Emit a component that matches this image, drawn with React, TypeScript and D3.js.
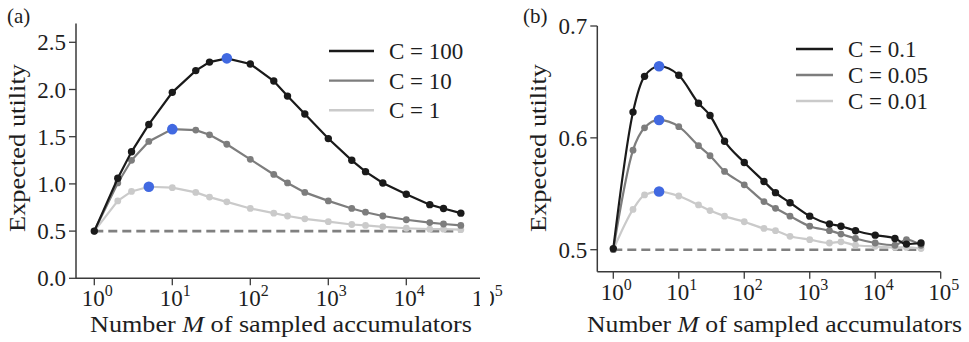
import React from 'react';
import * as d3 from 'd3';

// sampled accumulator counts (shared by both panels)
const M = [1, 2, 3, 5, 10, 20, 30, 50, 100, 200, 300, 500, 1000, 2000, 3000, 5000, 10000, 20000, 30000, 50000];

// panel (a)
const leftLabels = ['C = 100', 'C = 10', 'C = 1'];
const leftC100 = [0.5, 1.06, 1.34, 1.63, 1.97, 2.2, 2.29, 2.33, 2.27, 2.09, 1.93, 1.74, 1.48, 1.25, 1.13, 1.01, 0.89, 0.78, 0.74, 0.69];
const leftC10 = [0.5, 1.01, 1.25, 1.45, 1.58, 1.57, 1.52, 1.42, 1.26, 1.1, 1.01, 0.91, 0.82, 0.74, 0.7, 0.66, 0.62, 0.59, 0.575, 0.56];
const leftC1 = [0.5, 0.82, 0.92, 0.97, 0.96, 0.91, 0.86, 0.81, 0.74, 0.69, 0.66, 0.63, 0.6, 0.57, 0.56, 0.545, 0.53, 0.52, 0.52, 0.515];
const leftBest = [7, 4, 3];
const leftYTicks = [0, 0.5, 1, 1.5, 2, 2.5];

// panel (b)
const rightLabels = ['C = 0.1', 'C = 0.05', 'C = 0.01'];
const rightC01 = [0.501, 0.623, 0.655, 0.664, 0.656, 0.631, 0.62, 0.597, 0.578, 0.561, 0.551, 0.542, 0.53, 0.523, 0.521, 0.517, 0.513, 0.51, 0.505, 0.506];
const rightC005 = [0.5, 0.589, 0.609, 0.616, 0.61, 0.593, 0.584, 0.57, 0.558, 0.543, 0.537, 0.53, 0.521, 0.517, 0.514, 0.51, 0.506, 0.504, 0.509, 0.504];
const rightC001 = [0.5, 0.536, 0.549, 0.552, 0.548, 0.54, 0.535, 0.53, 0.525, 0.519, 0.517, 0.512, 0.509, 0.506, 0.507, 0.504, 0.503, 0.502, 0.502, 0.501];
const rightBest = [3, 3, 3];
const rightYTicks = [0.5, 0.6, 0.7];

const xTickExps = [0, 1, 2, 3, 4, 5];

const FONT = '"Liberation Serif", "Times New Roman", serif';
const COLORS = ['#1a1a1a', '#7d7d7d', '#cacaca'];
const BLUE = '#4169e1';
const AXIS = '#3a3a3a';

type PanelProps = {
  letter: string;
  letterX: number;
  series: number[][];
  best: number[];
  labels: string[];
  x: d3.ScaleLogarithmic<number, number>;
  y: d3.ScaleLinear<number, number>;
  yTicks: number[];
  yFmt: (v: number) => string;
  xSpine: [number, number];
  axisY: number;
  yTop: number;
  legendX: number;
  legendY: number;
  legendGap: number;
  lineLen: number;
  curve: d3.CurveFactory;
  ylabX: number;
  xlabX: number;
  xlabW: number;
};

const Panel = (p: PanelProps) => {
  const line = d3.line<number>()
    .x((_, i) => p.x(M[i]))
    .y(d => p.y(d))
    .curve(p.curve);
  const spineX = p.xSpine[0];
  const order = [2, 1, 0];
  return (
    <g fontFamily={FONT} fill="#1e1e1e">
      <text x={p.letterX} y={23} fontSize={21}>{p.letter}</text>

      {/* spines */}
      <line x1={spineX} x2={spineX} y1={p.axisY} y2={p.yTop} stroke={AXIS} strokeWidth={1.5} />
      <line x1={p.xSpine[0]} x2={p.xSpine[1]} y1={p.axisY} y2={p.axisY} stroke={AXIS} strokeWidth={1.5} />

      {p.yTicks.map(t => (
        <g key={t}>
          <line x1={spineX - 7} x2={spineX} y1={p.y(t)} y2={p.y(t)} stroke={AXIS} strokeWidth={1.3} />
          <text x={spineX - 10} y={p.y(t)} dy="0.35em" textAnchor="end" fontSize={23}>{p.yFmt(t)}</text>
        </g>
      ))}
      {xTickExps.map(k => (
        <g key={k}>
          <line x1={p.x(10 ** k)} x2={p.x(10 ** k)} y1={p.axisY} y2={p.axisY + 7} stroke={AXIS} strokeWidth={1.3} />
          <text x={p.x(10 ** k) + 3} y={p.axisY + 28} textAnchor="middle" fontSize={23}>
            10<tspan dy={-10} fontSize={16}>{k}</tspan>
          </text>
        </g>
      ))}

      <text x={p.xlabX} y={332} fontSize={23} textLength={p.xlabW} lengthAdjust="spacingAndGlyphs">
        Number <tspan fontStyle="italic">M</tspan> of sampled accumulators
      </text>
      <text transform={`translate(${p.ylabX},148) rotate(-90)`} textAnchor="middle" fontSize={23}
        textLength={168} lengthAdjust="spacingAndGlyphs">Expected utility</text>

      {/* chance level */}
      <line x1={p.x(M[0])} x2={p.x(M[M.length - 1])} y1={p.y(0.5)} y2={p.y(0.5)}
        stroke="#808080" strokeWidth={2.6} strokeDasharray="9,5" />

      {order.map(s => (
        <g key={s}>
          <path d={line(p.series[s]) || ''} fill="none" stroke={COLORS[s]} strokeWidth={2.2} />
          {p.series[s].map((v, i) => (
            <circle key={i} cx={p.x(M[i])} cy={p.y(v)} r={s === 0 ? 3.7 : 3.4} fill={COLORS[s]} />
          ))}
        </g>
      ))}
      {p.best.map((bi, s) => (
        <circle key={s} cx={p.x(M[bi])} cy={p.y(p.series[s][bi])} r={5.3} fill={BLUE} />
      ))}

      {/* legend */}
      {p.labels.map((l, i) => (
        <g key={l}>
          <line x1={p.legendX} x2={p.legendX + p.lineLen} y1={p.legendY + i * p.legendGap}
            y2={p.legendY + i * p.legendGap} stroke={COLORS[i]} strokeWidth={2.4} />
          <text x={p.legendX + p.lineLen + 15} y={p.legendY + i * p.legendGap} dy="0.35em" fontSize={23}
            xmlSpace="preserve">{l}</text>
        </g>
      ))}
    </g>
  );
};

export default function App() {
  const xL = d3.scaleLog().domain([1, 1e5]).range([94.3, 484.3]);
  const yL = d3.scaleLinear().domain([0, 2.5]).range([278.3, 42.3]);
  const xR = d3.scaleLog().domain([1, 1e5]).range([613.3, 940.7]);
  const yR = d3.scaleLinear().domain([0.5, 0.7]).range([249.7, 26]);
  const f1 = d3.format('.1f');

  return (
    <svg width={969} height={342} style={{ display: 'block', position: 'absolute', left: 0, top: 0, background: '#fff' }}>
      <defs>
        <clipPath id="leftClip">
          <rect x={0} y={0} width={480} height={342} />
          <rect x={490} y={280} width={20} height={40} />
        </clipPath>
      </defs>
      <rect width={969} height={342} fill="#fff" />
      <g clipPath="url(#leftClip)">
        <Panel letter="(a)" letterX={7} series={[leftC100, leftC10, leftC1]} best={leftBest} labels={leftLabels}
          x={xL} y={yL} yTicks={leftYTicks} yFmt={f1} xSpine={[76, 490]} axisY={yL(0)} yTop={yL(2.7)}
          legendX={329} legendY={51} legendGap={29.6} lineLen={45} curve={d3.curveLinear}
          ylabX={25} xlabX={90} xlabW={382} />
      </g>
      <Panel letter="(b)" letterX={523} series={[rightC01, rightC005, rightC001]} best={rightBest} labels={rightLabels}
        x={xR} y={yR} yTicks={rightYTicks} yFmt={f1} xSpine={[597.3, 940.7]} axisY={271.7} yTop={yR(0.7)}
        legendX={796} legendY={49} legendGap={26} lineLen={37} curve={d3.curveMonotoneX}
        ylabX={546} xlabX={587} xlabW={375} />
    </svg>
  );
}
